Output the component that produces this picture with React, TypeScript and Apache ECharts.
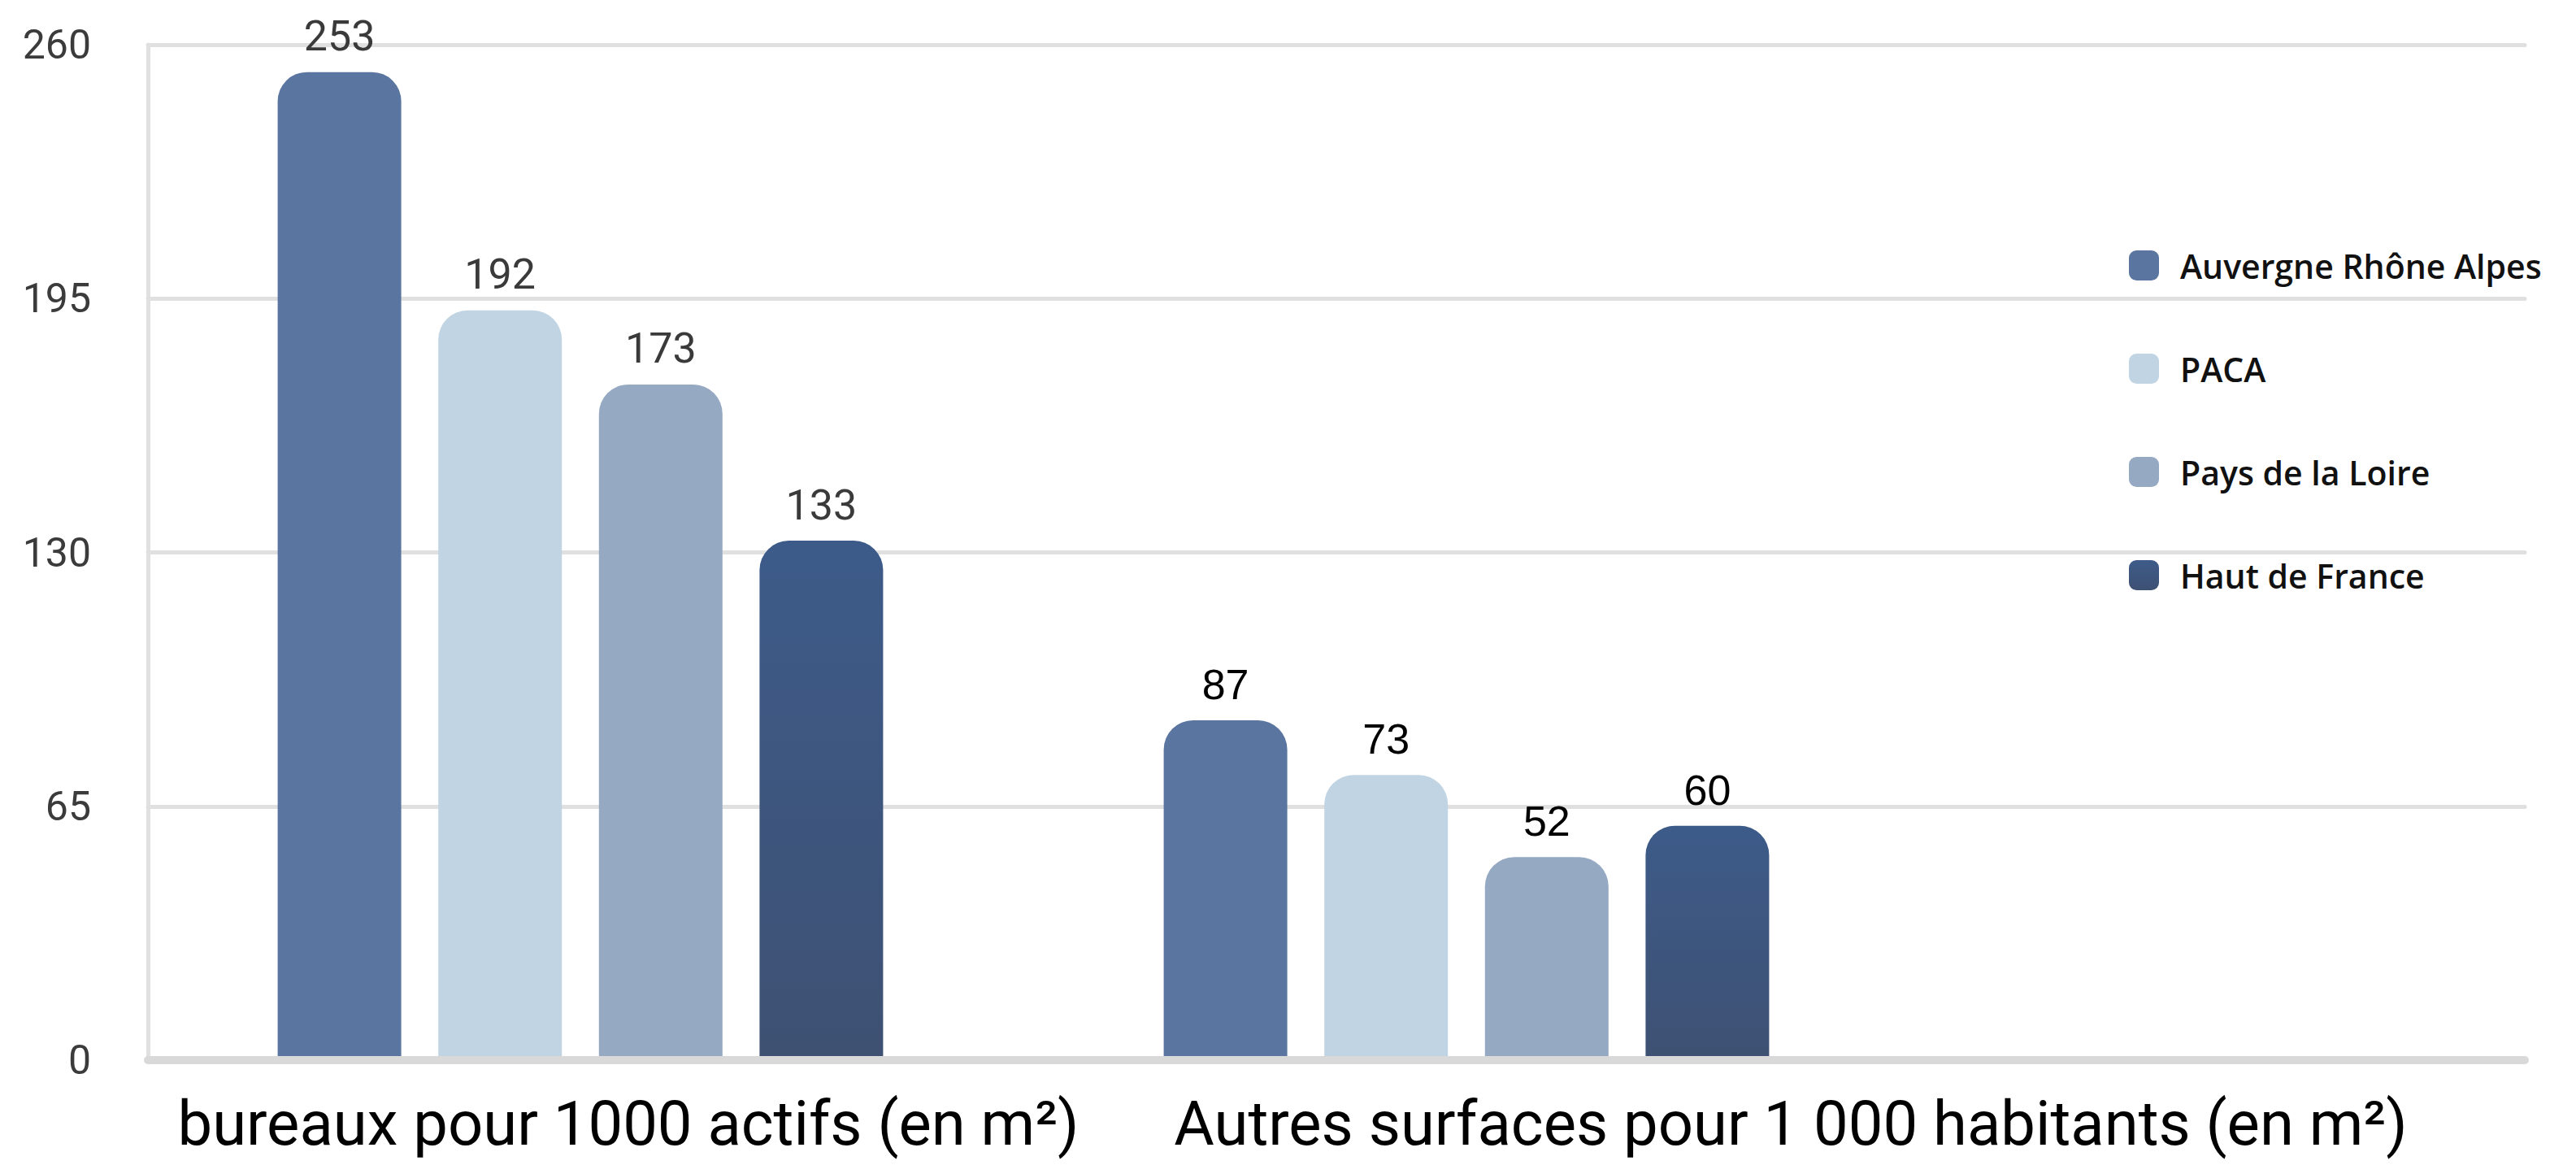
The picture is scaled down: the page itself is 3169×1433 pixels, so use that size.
import React, { useEffect, useRef } from "react";
import * as echarts from "echarts";

const categories = [
  "bureaux pour 1000 actifs (en m²)",
  "Autres surfaces pour 1 000 habitants (en m²)",
];
const regions = ["Auvergne Rhône Alpes", "PACA", "Pays de la Loire", "Haut de France"];
const auvergne = [253, 87];
const paca = [192, 73];
const loire = [173, 52];
const hautDeFrance = [133, 60];
const yMin = 0;
const yMax = 260;
const yInterval = 65;

const seriesValues = [auvergne, paca, loire, hautDeFrance];
const colors: any[] = [
  "#5a76a0",
  "#c0d4e3",
  "#95a9c3",
  new echarts.graphic.LinearGradient(0, 0, 0, 1, [
    { offset: 0, color: "#3d5b89" },
    { offset: 1, color: "#3e5173" },
  ]),
];

export default function App() {
  const ref = useRef<HTMLDivElement>(null);
  useEffect(() => {
    if (!ref.current) return;
    const chart = echarts.init(ref.current, undefined, { renderer: "svg" });
    const labelStyles = [
      { color: "#3a3a3a", fontFamily: "Roboto" },
      { color: "#000000", fontFamily: "Liberation Sans" },
    ];
    const series = regions.map((name, i) => ({
      name,
      type: "bar",
      xAxisIndex: 1,
      yAxisIndex: 1,
      barWidth: 152,
      barGap: "30%",
      itemStyle: { color: colors[i], borderRadius: [36, 36, 0, 0] },
      label: {
        show: true,
        position: "top",
        distance: 18,
        fontSize: 52,
      },
      data: seriesValues[i].map((v, ci) => ({
        value: v,
        label: labelStyles[ci],
      })),
    }));
    const catLabelStyle = {
      fontSize: 76,
      lineHeight: 76,
      fontFamily: "Roboto",
      fill: "#000000",
      align: "center",
      verticalAlign: "middle",
    };
    chart.setOption({
      animation: false,
      backgroundColor: "#ffffff",
      grid: [
        { left: 182, right: 63, top: 55, bottom: 129 },
        { left: 169, right: 820, top: 55, bottom: 129 },
      ],
      xAxis: [
        {
          gridIndex: 0,
          type: "category",
          data: categories,
          z: 10,
          axisLabel: { show: false },
          axisTick: { show: false },
          axisLine: { show: true, lineStyle: { color: "#d9d9d9", width: 10 } },
        },
        {
          gridIndex: 1,
          type: "category",
          data: categories,
          show: false,
        },
      ],
      yAxis: [
        {
          gridIndex: 0,
          type: "value",
          min: yMin,
          max: yMax,
          interval: yInterval,
          axisLine: { show: true, lineStyle: { color: "#e0e0e0", width: 5 } },
          axisTick: { show: false },
          splitLine: { show: true, lineStyle: { color: "#e0e0e0", width: 5, cap: "round" } },
          axisLabel: {
            fontSize: 50,
            color: "#3b3b3b",
            margin: 70,
            fontFamily: "Roboto",
          },
        },
        {
          gridIndex: 1,
          type: "value",
          min: yMin,
          max: yMax,
          interval: yInterval,
          show: false,
          splitLine: { show: false },
        },
      ],
      legend: {
        data: regions,
        orient: "vertical",
        left: 2619,
        top: 306,
        padding: 0,
        itemWidth: 37,
        itemHeight: 37,
        itemGap: 86,
        icon: "roundRect",
        textStyle: {
          fontSize: 41,
          fontWeight: 600,
          color: "#111111",
          fontFamily: "Open Sans",
          lineHeight: 37,
          padding: [0, 0, 0, 21],
        },
      },
      graphic: [
        {
          type: "text",
          x: 773,
          y: 1382,
          style: { text: categories[0], ...catLabelStyle },
        },
        {
          type: "text",
          x: 2203,
          y: 1382,
          style: { text: categories[1], ...catLabelStyle },
        },
      ],
      series,
    });
    return () => chart.dispose();
  }, []);
  return (
    <div
      ref={ref}
      style={{ position: "absolute", left: 0, top: 0, width: 3169, height: 1433 }}
    />
  );
}
